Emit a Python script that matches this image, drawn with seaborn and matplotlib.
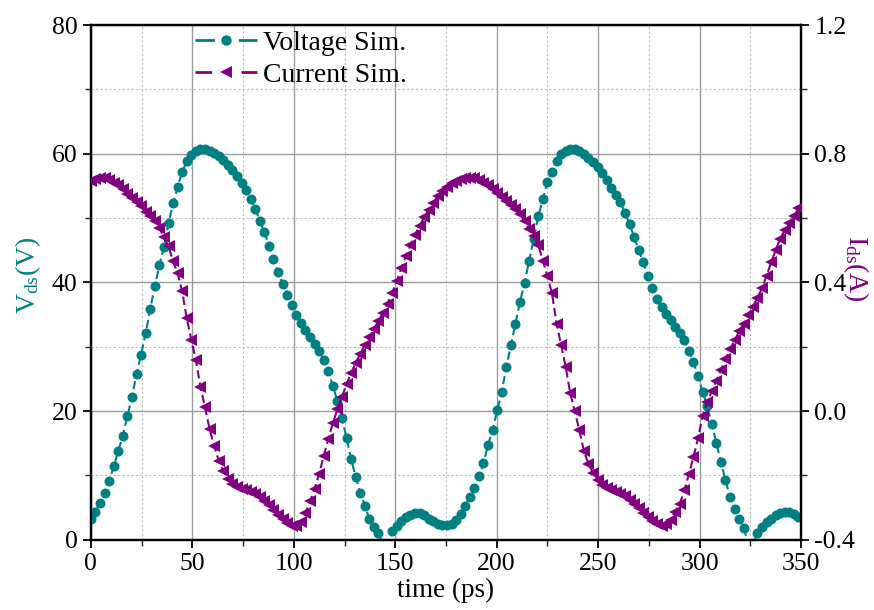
import numpy as np
import pandas as pd
import matplotlib
matplotlib.use("Agg")
import matplotlib.pyplot as plt
import seaborn as sns
from matplotlib.ticker import MultipleLocator, FixedLocator, FormatStrFormatter
from matplotlib.lines import Line2D

# sampling step of the transient simulation (ps)
time_step_ps = 2.25

# drain-source voltage V_ds (V), one value per time step
voltage_sim = [
    3.2, 4.4, 5.8, 7.3, 9.2, 11.4, 13.8, 16.2, 19.3, 22.2,
    25.8, 28.8, 32.1, 35.9, 39.4, 42.7, 45.5, 49.2, 52.3, 54.8,
    57.2, 58.8, 59.8, 60.4, 60.7, 60.7, 60.5, 60.1, 59.6, 59.0,
    58.3, 57.5, 56.6, 55.5, 54.3, 53.0, 51.4, 49.6, 47.8, 45.7,
    43.6, 41.6, 39.8, 38.1, 36.5, 35.0, 33.7, 32.6, 31.5, 30.4,
    29.3, 28.0, 26.2, 23.9, 21.6, 18.9, 15.8, 12.5, 9.8, 7.3,
    5.3, 3.3, 2.0, 1.1, -0.8, -0.6, 1.3, 2.1, 2.9, 3.5,
    3.9, 4.1, 4.1, 3.8, 3.3, 2.9, 2.5, 2.3, 2.3, 2.5,
    3.1, 4.0, 5.3, 6.6, 8.0, 9.9, 11.9, 14.8, 17.1, 20.1,
    23.0, 26.8, 30.2, 33.6, 37.0, 39.9, 43.4, 46.7, 50.3, 52.9,
    55.6, 57.2, 58.9, 59.9, 60.5, 60.7, 60.7, 60.4, 60.0, 59.4,
    58.7, 58.0, 57.0, 55.9, 54.7, 53.6, 52.5, 50.8, 49.1, 47.0,
    45.0, 43.1, 41.0, 39.2, 37.5, 36.2, 35.1, 34.1, 33.1, 32.1,
    31.0, 29.4, 27.6, 25.4, 23.0, 20.8, 18.0, 15.1, 12.1, 9.3,
    6.6, 4.8, 3.2, 1.9, -0.7, -0.8, 1.1, 2.0, 2.7, 3.3,
    3.8, 4.2, 4.4, 4.3, 4.0, 3.5,
]

# drain-source current I_ds (A), one value per time step
current_sim = [
    0.714, 0.722, 0.726, 0.724, 0.718, 0.710, 0.702, 0.690, 0.676, 0.662,
    0.650, 0.636, 0.620, 0.606, 0.590, 0.570, 0.540, 0.512, 0.466, 0.428,
    0.372, 0.288, 0.222, 0.158, 0.076, 0.012, -0.056, -0.108, -0.154, -0.186,
    -0.212, -0.226, -0.236, -0.242, -0.246, -0.252, -0.258, -0.266, -0.278, -0.292,
    -0.308, -0.322, -0.336, -0.348, -0.356, -0.358, -0.346, -0.316, -0.280, -0.242,
    -0.194, -0.140, -0.086, -0.038, 0.006, 0.044, 0.084, 0.118, 0.150, 0.178,
    0.206, 0.230, 0.256, 0.280, 0.306, 0.334, 0.368, 0.404, 0.444, 0.482,
    0.516, 0.548, 0.576, 0.602, 0.626, 0.648, 0.668, 0.684, 0.698, 0.708,
    0.716, 0.722, 0.726, 0.726, 0.724, 0.718, 0.710, 0.702, 0.690, 0.678,
    0.666, 0.654, 0.642, 0.628, 0.612, 0.590, 0.566, 0.544, 0.516, 0.468,
    0.420, 0.366, 0.272, 0.206, 0.138, 0.056, 0.000, -0.060, -0.124, -0.164,
    -0.192, -0.214, -0.230, -0.238, -0.246, -0.252, -0.258, -0.264, -0.276, -0.288,
    -0.302, -0.316, -0.330, -0.342, -0.352, -0.358, -0.352, -0.338, -0.312, -0.288,
    -0.246, -0.196, -0.142, -0.084, -0.016, 0.028, 0.062, 0.094, 0.128, 0.162,
    0.192, 0.220, 0.248, 0.272, 0.298, 0.324, 0.352, 0.382, 0.420, 0.462,
    0.500, 0.536, 0.562, 0.584, 0.606, 0.630,
]

x_ticks = [0, 50, 100, 150, 200, 250, 300, 350]
v_ticks = [0, 20, 40, 60, 80]
i_ticks = [-0.4, 0.0, 0.4, 0.8, 1.2]
series_names = ["Voltage Sim.", "Current Sim."]

TEAL = "#008080"
PURPLE = "#800080"

sns.set_style("ticks")
plt.rcParams["font.family"] = ["Liberation Serif", "DejaVu Serif"]
plt.rcParams["mathtext.fontset"] = "custom"
plt.rcParams["mathtext.rm"] = "Liberation Serif"
plt.rcParams["mathtext.it"] = "Liberation Serif:italic"
plt.rcParams["axes.unicode_minus"] = False
plt.rcParams["text.color"] = "black"
plt.rcParams["axes.labelcolor"] = "black"

n = min(len(voltage_sim), len(current_sim))
time_ps = np.arange(n) * time_step_ps
df = pd.DataFrame({"time": time_ps,
                   "voltage": voltage_sim[:n],
                   "current": current_sim[:n]})

fig = plt.figure(figsize=(8.74, 6.10), dpi=100)
ax = fig.add_axes([0.104, 0.115, 0.8125, 0.844])
ax2 = ax.twinx()

sns.lineplot(data=df, x="time", y="voltage", ax=ax, color=TEAL,
             linestyle=(0, (4, 2)), linewidth=1.5, marker="o",
             markersize=7.2, markeredgewidth=0, zorder=3)
sns.lineplot(data=df, x="time", y="current", ax=ax2, color=PURPLE,
             linestyle=(0, (4, 2)), linewidth=1.5, marker="<",
             markersize=8.5, markeredgewidth=0, zorder=3)

ax.set_xlim(0, 350)
ax.set_ylim(0, 80)
ax2.set_ylim(-0.4, 1.2)

ax.xaxis.set_major_locator(FixedLocator(x_ticks))
ax.xaxis.set_minor_locator(MultipleLocator(25))
ax.yaxis.set_major_locator(FixedLocator(v_ticks))
ax.yaxis.set_minor_locator(MultipleLocator(10))
ax2.yaxis.set_major_locator(FixedLocator(i_ticks))
ax2.yaxis.set_minor_locator(MultipleLocator(0.2))
ax2.yaxis.set_major_formatter(FormatStrFormatter("%.1f"))

ax.grid(True, which="major", color="#9a9a9a", linestyle="-", linewidth=1.0)
ax.grid(True, which="minor", color="#bdbdbd", linestyle=(0, (2, 2)), linewidth=0.8)
ax.set_axisbelow(True)

for a in (ax, ax2):
    for s in a.spines.values():
        s.set_linewidth(1.6)
        s.set_color("black")
    a.tick_params(which="major", direction="out", length=6, width=1.3,
                  labelsize=18.5, colors="black")
    a.tick_params(which="minor", direction="out", length=4, width=1.0)
ax.tick_params(axis="x", which="both", top=False)
ax.tick_params(axis="y", which="both", right=False)
ax2.tick_params(axis="y", which="both", left=False)

ax.set_xlabel("time (ps)", fontsize=19.5, labelpad=2)
ax.set_ylabel(r"V$_{\mathregular{ds}}$(V)", fontsize=20, color=TEAL)
ax.yaxis.set_label_coords(-0.068, 0.513)
ax2.set_ylabel(r"I$_{\mathregular{ds}}$(A)", fontsize=20, color=PURPLE,
               rotation=270)
ax2.yaxis.set_label_coords(1.098, 0.528)

handles = [
    Line2D([], [], color=TEAL, linestyle=(0, (7.0, 8.6)), linewidth=2.0,
           marker="o", markersize=7.5, markeredgewidth=0),
    Line2D([], [], color=PURPLE, linestyle=(0, (6.0, 10.6)), linewidth=2.0,
           marker="<", markersize=9, markeredgewidth=0),
]
leg = ax.legend(handles, series_names, loc="upper left",
                bbox_to_anchor=(0.142, 0.995), frameon=False, fontsize=20,
                handlelength=2.25, handletextpad=0.2, labelspacing=0.25,
                borderaxespad=0.0, borderpad=0.1)

fig.savefig("out.png", dpi=100)
